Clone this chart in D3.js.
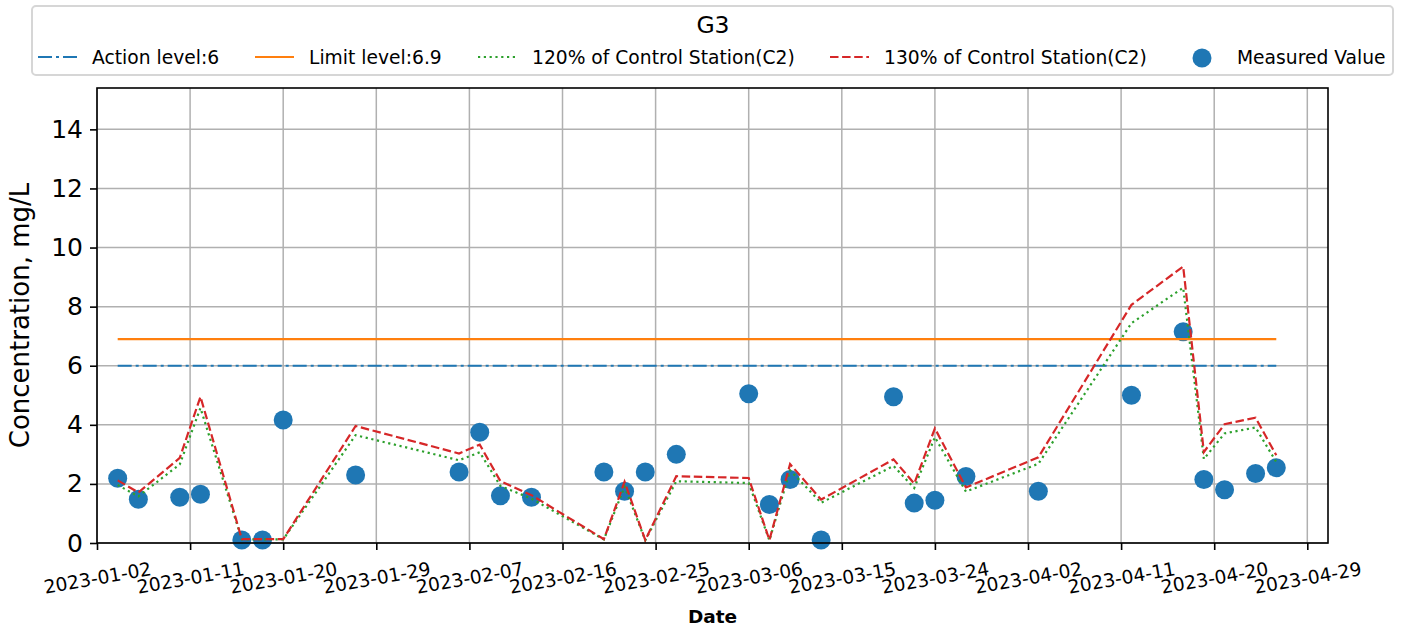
<!DOCTYPE html>
<meta charset="UTF-8">
<style>
body { margin: 0; background: #fff; }
svg { font-family: "DejaVu Sans", sans-serif; }
.grid line { stroke: #b0b0b0; stroke-width: 1.5px; }
</style>
<body>
<script src="https://d3js.org/d3.v7.min.js"></script>
<script>

// sample dates (G3)
var dates = ["2023-01-04","2023-01-06","2023-01-10","2023-01-12","2023-01-16","2023-01-18",
  "2023-01-20","2023-01-27","2023-02-06","2023-02-08","2023-02-10","2023-02-13",
  "2023-02-20","2023-02-22","2023-02-24","2023-02-27","2023-03-06","2023-03-08",
  "2023-03-10","2023-03-13","2023-03-20","2023-03-22","2023-03-24","2023-03-27",
  "2023-04-03","2023-04-12","2023-04-17","2023-04-19","2023-04-21","2023-04-24","2023-04-26"];

var measured = [2.19, 1.48, 1.55, 1.65, 0.1, 0.1, 4.16, 2.3, 2.4, 3.75, 1.6, 1.55,
  2.4, 1.75, 2.4, 3.0, 5.05, 1.3, 2.15, 0.1, 4.95, 1.35, 1.45, 2.25,
  1.75, 5.0, 7.15, 2.15, 1.8, 2.35, 2.55];

var ctrl120 = [1.96, 1.58, 2.66, 4.57, 0.12, 0.12, 0.12, 3.65, 2.8, 3.07, 1.93, 1.5,
  0.12, 1.91, 0.09, 2.09, 2.03, 0.09, 2.46, 1.36, 2.61, 1.86, 3.58, 1.74,
  2.68, 7.44, 8.64, 2.84, 3.71, 3.91, 2.74];

var ctrl130 = [2.12, 1.71, 2.88, 4.95, 0.13, 0.13, 0.13, 3.96, 3.03, 3.33, 2.09, 1.62,
  0.13, 2.07, 0.1, 2.26, 2.2, 0.1, 2.67, 1.47, 2.83, 2.01, 3.88, 1.88,
  2.9, 8.06, 9.36, 3.08, 4.02, 4.24, 2.97];

var actionLevel = 6;
var limitLevel = 6.9;

var xTicks = ["2023-01-02","2023-01-11","2023-01-20","2023-01-29","2023-02-07","2023-02-16",
  "2023-02-25","2023-03-06","2023-03-15","2023-03-24","2023-04-02","2023-04-11",
  "2023-04-20","2023-04-29"];
var yTicks = [0, 2, 4, 6, 8, 10, 12, 14];

var parse = d3.timeParse("%Y-%m-%d");
var fmt = d3.timeFormat("%Y-%m-%d");

var W = 1406, H = 630;
var margin = {top: 88, right: 78, bottom: 87, left: 97};

var svg = d3.select("body").append("svg")
    .attr("width", W)
    .attr("height", H);

var x = d3.scaleTime()
    .domain([parse("2023-01-02"), parse("2023-05-01")])
    .range([margin.left, W - margin.right]);

var y = d3.scaleLinear()
    .domain([0, 15.4])
    .range([H - margin.bottom, margin.top]);

var rows = dates.map(function(d, i) {
  return {date: parse(d), m: measured[i], c120: ctrl120[i], c130: ctrl130[i]};
});

// grid
var grid = svg.append("g").attr("class", "grid");
grid.selectAll("line.vx")
  .data(xTicks.map(parse))
  .enter().append("line")
    .attr("x1", function(d) { return x(d); })
    .attr("x2", function(d) { return x(d); })
    .attr("y1", y.range()[0])
    .attr("y2", y.range()[1]);
grid.selectAll("line.hy")
  .data(yTicks)
  .enter().append("line")
    .attr("x1", x.range()[0])
    .attr("x2", x.range()[1])
    .attr("y1", function(d) { return y(d); })
    .attr("y2", function(d) { return y(d); });

// measured value scatter (under the lines, like matplotlib)
svg.append("g").selectAll("circle")
  .data(rows)
  .enter().append("circle")
    .attr("cx", function(d) { return x(d.date); })
    .attr("cy", function(d) { return y(d.m); })
    .attr("r", 9.5)
    .style("fill", "#1f77b4");

var first = rows[0].date, last = rows[rows.length - 1].date;

// action level
svg.append("line")
    .attr("x1", x(first)).attr("x2", x(last))
    .attr("y1", y(actionLevel)).attr("y2", y(actionLevel))
    .style("stroke", "#1f77b4")
    .style("stroke-width", 2.2)
    .style("stroke-dasharray", "14,4,3,4");

// limit level
svg.append("line")
    .attr("x1", x(first)).attr("x2", x(last))
    .attr("y1", y(limitLevel)).attr("y2", y(limitLevel))
    .style("stroke", "#ff7f0e")
    .style("stroke-width", 2.2);

var line120 = d3.line()
    .x(function(d) { return x(d.date); })
    .y(function(d) { return y(d.c120); });
var line130 = d3.line()
    .x(function(d) { return x(d.date); })
    .y(function(d) { return y(d.c130); });

svg.append("path")
    .datum(rows)
    .attr("d", line120)
    .style("fill", "none")
    .style("stroke", "#2ca02c")
    .style("stroke-width", 2.2)
    .style("stroke-dasharray", "2.2,3.6");

svg.append("path")
    .datum(rows)
    .attr("d", line130)
    .style("fill", "none")
    .style("stroke", "#d62728")
    .style("stroke-width", 2.2)
    .style("stroke-dasharray", "8.5,3.6");

// axes frame
svg.append("rect")
    .attr("x", x.range()[0])
    .attr("y", y.range()[1])
    .attr("width", x.range()[1] - x.range()[0])
    .attr("height", y.range()[0] - y.range()[1])
    .style("fill", "none")
    .style("stroke", "#000")
    .style("stroke-width", 1.6);

// y axis
var yAxis = svg.append("g")
    .attr("transform", "translate(" + margin.left + ",0)")
    .call(d3.axisLeft(y).tickValues(yTicks).tickSize(7).tickPadding(7));
yAxis.select(".domain").remove();
yAxis.selectAll(".tick line").style("stroke", "#000").style("stroke-width", 1.6);
yAxis.selectAll(".tick text")
    .style("font-size", "25px")
    .style("font-family", "DejaVu Sans")
    .style("fill", "#000");

// x axis
var xAxis = svg.append("g")
    .attr("transform", "translate(0," + y.range()[0] + ")")
    .call(d3.axisBottom(x).tickValues(xTicks.map(parse)).tickFormat(fmt).tickSize(7));
xAxis.select(".domain").remove();
xAxis.selectAll(".tick line").style("stroke", "#000").style("stroke-width", 1.6);
xAxis.selectAll(".tick text")
    .attr("y", 0)
    .attr("dy", null)
    .attr("transform", "translate(0,35) rotate(-10)")
    .attr("dominant-baseline", "central")
    .style("text-anchor", "middle")
    .style("font-size", "18.7px")
    .style("font-family", "DejaVu Sans")
    .style("fill", "#000");

// axis labels
svg.append("text")
    .attr("x", (x.range()[0] + x.range()[1]) / 2)
    .attr("y", 623)
    .style("text-anchor", "middle")
    .style("font-size", "18.5px")
    .style("font-weight", "bold")
    .text("Date");

svg.append("text")
    .attr("transform", "translate(29," + ((y.range()[0] + y.range()[1]) / 2) + ") rotate(-90)")
    .style("text-anchor", "middle")
    .style("font-size", "26px")
    .text("Concentration, mg/L");

// legend
var legend = svg.append("g");
legend.append("rect")
    .attr("x", 32).attr("y", 6)
    .attr("width", 1361).attr("height", 69)
    .attr("rx", 4)
    .style("fill", "#fff")
    .style("stroke", "#d6d6d6")
    .style("stroke-width", 2);

legend.append("text")
    .attr("x", 713).attr("y", 33)
    .style("text-anchor", "middle")
    .style("font-size", "23.5px")
    .text("G3");

var legItems = [
  {label: "Action level:6", color: "#1f77b4", dash: "14,4,3,4", hx: 38, tx: 92},
  {label: "Limit level:6.9", color: "#ff7f0e", dash: null, hx: 255, tx: 309},
  {label: "120% of Control Station(C2)", color: "#2ca02c", dash: "2.2,3.6", hx: 478, tx: 532},
  {label: "130% of Control Station(C2)", color: "#d62728", dash: "8.5,3.6", hx: 830, tx: 884}
];
var legY = 57;
legItems.forEach(function(it) {
  legend.append("line")
      .attr("x1", it.hx).attr("x2", it.hx + 39)
      .attr("y1", legY).attr("y2", legY)
      .style("stroke", it.color)
      .style("stroke-width", 2.2)
      .style("stroke-dasharray", it.dash);
  legend.append("text")
      .attr("x", it.tx).attr("y", legY)
      .attr("dominant-baseline", "central")
      .style("font-size", "18.7px")
      .text(it.label);
});
legend.append("circle")
    .attr("cx", 1202).attr("cy", legY + 1)
    .attr("r", 9.5)
    .style("fill", "#1f77b4");
legend.append("text")
    .attr("x", 1237).attr("y", legY)
    .attr("dominant-baseline", "central")
    .style("font-size", "18.7px")
    .text("Measured Value");

</script>
</body>
